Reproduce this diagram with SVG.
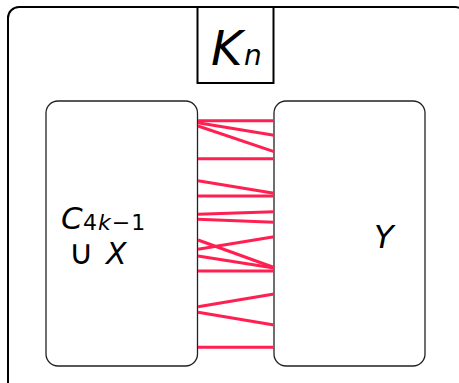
<svg xmlns="http://www.w3.org/2000/svg" width="459" height="383" viewBox="0 0 459 383">
<style>
.frame{fill:none;stroke:#000;stroke-width:2}
.node{fill:#fff;stroke:#222;stroke-width:1.3}
.e{stroke:#ff1f50;stroke-width:3;fill:none}
.t{font-family:"DejaVu Sans","Liberation Sans",sans-serif;fill:#000}
.i{font-style:italic}
</style>
<rect class="frame" x="8" y="7" width="458" height="392" rx="11"/>
<g id="kn">
<rect class="frame" x="197.5" y="7" width="76" height="76" fill="#fff"/>
<text class="t" y="65"><tspan class="i" x="211" font-size="48">K</tspan><tspan class="i" x="244" font-size="28">n</tspan></text>
</g>
<g id="left">
<rect class="node" x="46" y="101" width="151.5" height="265" rx="12"/>
<text class="t"><tspan class="i" x="61" y="229" font-size="31">C</tspan><tspan x="83" y="230" font-size="22" letter-spacing="1">4<tspan class="i">k</tspan>−1</tspan><tspan x="69" y="264" font-size="34">∪</tspan><tspan class="i" x="106" y="264" font-size="30">X</tspan></text>
</g>
<g id="right">
<rect class="node" x="274" y="101" width="151" height="265" rx="12"/>
<text class="t i" x="374" y="248" font-size="32">Y</text>
</g>
<g id="edges">
<line class="e" x1="198" y1="120.7" x2="274" y2="120.7"/>
<line class="e" x1="198" y1="122.7" x2="274" y2="135.3"/>
<line class="e" x1="198" y1="126" x2="274" y2="151.7"/>
<line class="e" x1="198" y1="158.7" x2="274" y2="158.7"/>
<line class="e" x1="198" y1="180.7" x2="274" y2="193.3"/>
<line class="e" x1="198" y1="196" x2="274" y2="196"/>
<line class="e" x1="198" y1="214.3" x2="274" y2="211.7"/>
<line class="e" x1="198" y1="219.3" x2="274" y2="222.3"/>
<line class="e" x1="198" y1="240" x2="274" y2="267.5"/>
<line class="e" x1="198" y1="249.3" x2="274" y2="236.7"/>
<line class="e" x1="198" y1="256" x2="274" y2="268"/>
<line class="e" x1="198" y1="271" x2="274" y2="271"/>
<line class="e" x1="198" y1="306.7" x2="274" y2="294"/>
<line class="e" x1="198" y1="312.3" x2="274" y2="325"/>
<line class="e" x1="198" y1="347.3" x2="274" y2="347.3"/>
</g>
</svg>
